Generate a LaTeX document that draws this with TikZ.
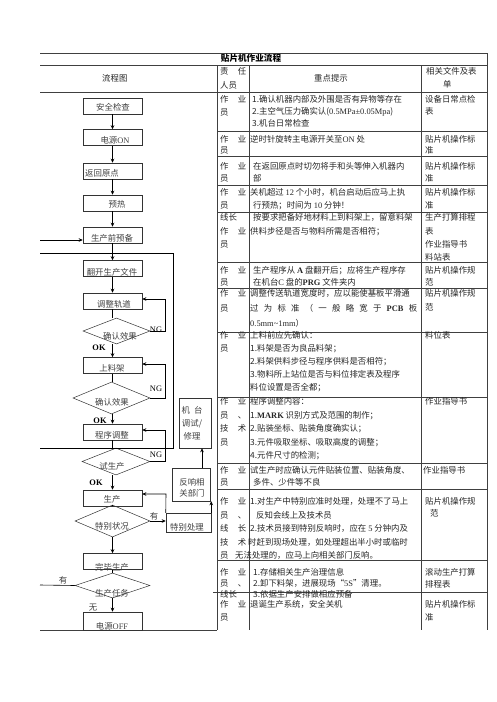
\documentclass[tikz,border=0pt]{standalone}
\usepackage{fontspec}
\setmainfont{Liberation Serif}
\newfontfamily\cjk{Noto Sans CJK SC}
\usetikzlibrary{arrows.meta,shapes.geometric}
\newcommand\latn[1]{{\rmfamily #1}}
\newcommand\wbox[1]{\makebox[26pt]{#1}}
\newcommand\rowc[5]{%
  \foreach \t [count=\i from 0] in {#5} {\node[txt] (#1-\i) at ({#2},{#3+\i*#4}) {\t};}}
\begin{document}
\begin{tikzpicture}[x=1pt,y=-1pt,
  txt/.style={anchor=west,inner sep=0pt,font=\cjk\fontsize{8.4}{10}\selectfont,text height=7pt,text depth=1.5pt,text=black!85},
  ftxt/.style={inner sep=0pt,font=\cjk\fontsize{8.4}{10}\selectfont,text height=7pt,text depth=1.5pt,text=black!75},
  flowbox/.style={draw=black!80,line width=0.6pt,minimum width=59pt,minimum height=16pt,inner sep=0pt},
  dia/.style 2 args={diamond,draw=black!80,line width=0.5pt,inner sep=0pt,minimum width=#1pt,minimum height=#2pt},
  sidebox/.style={draw=black!80,line width=0.5pt,inner sep=0pt},
  arr/.style={-{Stealth[length=4pt,width=3.6pt]}},
  conn/.style={draw=black,line width=0.6pt},
  grid/.style={draw=black!75,line width=0.5pt}]
\useasboundingbox (0,0) rectangle (496,702);

% ---------------- table lines ----------------
\coordinate (tl) at (40,53); \coordinate (tr) at (487,53);
\draw[grid] (tl) -- (tr);
\draw[grid,line width=1pt] (40,65) -- (487,65);
\draw[grid] (40,92) -- (487,92);
\foreach \yy in {131,156,185,212,262,288,332,397,463,489,560} \draw[grid] (217,\yy) -- (487,\yy);
\draw[grid,line width=1pt] (213,592) -- (487,592);
\draw[grid] (40,630) -- (217,630);
\draw[grid] (217,65) -- (217,630);
\draw[grid] (249,65) -- (249,630);
\draw[grid] (421,65) -- (421,630);
\draw[grid] (487,53) -- (487,630);

% ---------------- header ----------------
\node[ftxt,font=\cjk\bfseries\fontsize{8.6}{10}\selectfont,text=black] (title) at (251,59) {贴片机作业流程};
\node[txt] (h1) at (102,79) {流程图};
\rowc{h2}{220}{72}{14}{{\wbox{责\hfill 任}},人员}
\node[txt] (h3) at (314,79) {重点提示};
\rowc{h4}{426}{72}{13}{相关文件及表,\hspace{17pt}单}

% ---------------- rows ----------------
\rowc{r1b}{220}{100}{13}{{\wbox{作\hfill 业}},员}
\rowc{r1c}{252}{100}{12}{1.确认机器内部及外围是否有异物等存在,{2.主空气压力确实认(\latn{0.5MPa±0.05Mpa})},3.机台日常检查}
\rowc{r1d}{425}{100}{12}{设备日常点检,表}

\rowc{r2b}{220}{140}{11}{{\wbox{作\hfill 业}},员}
\rowc{r2c}{250}{140}{11}{逆时针旋转主电源开关至\latn{ON} 处}
\rowc{r2d}{425}{140}{11}{贴片机操作标,准}

\rowc{r3b}{220}{167}{11.5}{{\wbox{作\hfill 业}},员}
\rowc{r3c}{253}{167}{11.5}{在返回原点时切勿将手和头等伸入机器内,部}
\rowc{r3d}{425}{167}{11.5}{贴片机操作标,准}

\rowc{r4b}{220}{193}{13}{{\wbox{作\hfill 业}},员}
\rowc{r4c}{250}{193}{13}{关机超过 \latn{12} 个小时，机台启动后应马上执,\hspace{3pt}行预热；时间为 \latn{10} 分钟！}
\rowc{r4d}{425}{193}{13}{贴片机操作标,准}

\rowc{r5b}{220}{218}{13.3}{线长,{\wbox{作\hfill 业}},员}
\rowc{r5c}{250}{218}{13.3}{\hspace{3pt}按要求把备好地材料上到料架上，留意料架,供料步径是否与物料所需是否相符；}
\rowc{r5d}{425}{218}{13.3}{生产打算排程,表,作业指导书,料站表}

\rowc{r6b}{220}{271}{12}{{\wbox{作\hfill 业}},员}
\rowc{r6c}{250}{271}{12}{\hspace{3pt}生产程序从 \latn{\textbf{A}} 盘翻开后；应将生产程序存,\hspace{3pt}在机台\latn{C} 盘的\latn{\textbf{PRG}} 文件夹内}
\rowc{r6d}{425}{271}{12}{贴片机操作规,范}

\rowc{r7b}{220}{294}{15}{{\wbox{作\hfill 业}},员}
\rowc{r7c}{250}{294}{15}{调整传送轨道宽度时，应以能使基板平滑通,{\makebox[167pt]{过\hfill 为\hfill 标\hfill 准\hfill （\hfill 一\hfill 般\hfill 略\hfill 宽\hfill 于\hfill \latn{\textbf{PCB}}\hfill 板}},\latn{0.5mm\textasciitilde1mm}）}
\rowc{r7d}{425}{294}{14}{贴片机操作规,范}

\rowc{r8b}{220}{336}{13}{{\wbox{作\hfill 业}},员}
\rowc{r8c}{250}{336}{13}{上料前应先确认：,1.料架是否为良品料架；,2.料架供料步径与程序供料是否相符；,3.物料所上站位是否与料位排定表及程序,料位设置是否全都；}
\rowc{r8d}{425}{336}{13}{料位表}

\rowc{r9b}{220}{402}{13.5}{{\wbox{作\hfill 业}},{\wbox{员\hfill 、}},{\wbox{技\hfill 术}},员}
\rowc{r9c}{250}{402}{13.5}{程序调整内容：,1.\latn{\textbf{MARK}} 识别方式及范围的制作；,2.贴装坐标、贴装角度确实认；,3.元件吸取坐标、吸取高度的调整；,4.元件尺寸的检测；}
\rowc{r9d}{425}{402}{13}{作业指导书}

\rowc{r10b}{220}{471}{12}{{\wbox{作\hfill 业}},员}
\rowc{r10c}{250}{471}{12}{试生产时应确认元件贴装位置、贴装角度、,\hspace{3pt}多件、少件等不良}
\rowc{r10d}{423}{471}{12}{作业指导书}

\rowc{r11b}{220}{502}{13.5}{{\wbox{作\hfill 业}},{\wbox{员\hfill 、}},{\wbox{线\hfill 长}},{\wbox{技\hfill 术}},员}
\rowc{r11c}{250}{502}{13.5}{1.对生产中特别应准时处理，处理不了马上,\hspace{6pt}反知会线上及技术员,2.技术员接到特别反响时，应在 \latn{5} 分钟内及}
\node[txt] (r11c4) at (248,542.5) {时赶到现场处理，如处理超出半小时或临时};
\node[txt] (r11c5) at (235,556) {无法处理的，应马上向相关部门反响。};
\rowc{r11d}{425}{502}{12}{贴片机操作规,\hspace{5pt}范}

\rowc{r12b}{220}{573}{11}{{\wbox{作\hfill 业}},{\wbox{员\hfill 、}},线长}
\rowc{r12c}{253}{573}{11}{1.存储相关生产治理信息,2.卸下料架，进展现场“\latn{5S}”清理。,3.依据生产安排做相应预备}
\rowc{r12d}{425}{573}{12}{滚动生产打算,排程表}

\rowc{r13b}{220}{605}{13}{{\wbox{作\hfill 业}},员}
\rowc{r13c}{250}{605}{13}{退诞生产系统，安全关机}
\rowc{r13d}{425}{605}{13}{贴片机操作标,准}

% ---------------- flowchart ----------------
\node[flowbox] (b1) at (112.5,106) {};
\node[flowbox] (b2) at (112.5,137.5) {};
\node[flowbox] (b3) at (112.5,171) {};
\node[flowbox] (b4) at (112.5,203) {};
\node[flowbox] (b5) at (112.5,235) {};
\node[flowbox] (b6) at (112.5,268.5) {};
\node[flowbox] (b7) at (112.5,301) {};
\node[dia={67}{26}] (d1) at (116.5,331) {};
\node[flowbox] (b8) at (112.5,365.5) {};
\node[dia={77}{32}] (d2) at (111.5,398) {};
\node[flowbox] (b9) at (112.5,432) {};
\node[dia={68}{27}] (d3) at (116,461.5) {};
\node[flowbox] (b10) at (112.5,498) {};
\node[dia={75}{32}] (d4) at (112.5,521) {};
\node[flowbox] (b11) at (112.5,561.5) {};
\node[dia={75}{25}] (d5) at (112.5,585.5) {};
\node[flowbox,minimum height=18pt] (b12) at (112.5,621) {};

\node[sidebox,minimum width=32pt,minimum height=50pt] (jt) at (195,423) {};
\node[sidebox,minimum width=38pt,minimum height=33pt] (fx) at (191,484.5) {};
\node[sidebox,minimum width=45pt,minimum height=19pt] (tb) at (188.5,522.5) {};

% flow texts
\node[ftxt] (t1) at (113,108) {安全检查};
\node[ftxt] (t2) at (115,141) {电源\latn{ON}};
\node[ftxt,anchor=west] (t3) at (85,174) {返回原点};
\node[ftxt] (t4) at (117,205) {预热};
\node[ftxt] (t5) at (112,239) {生产前预备};
\node[ftxt] (t6) at (112,273) {翻开生产文件};
\node[ftxt] (t7) at (114,305) {调整轨道};
\node[ftxt] (td1) at (120,337) {确认效果};
\node[ftxt] (t8) at (112,369) {上料架};
\node[ftxt] (td2) at (112,403) {确认效果};
\node[ftxt] (t9) at (112,436) {程序调整};
\node[ftxt] (td3) at (112,467) {试生产};
\node[ftxt] (t10) at (112,500) {生产};
\node[ftxt] (td4) at (112,527) {特别状况};
\node[ftxt] (t11) at (112,568) {完毕生产};
\node[ftxt] (td5) at (112,594) {生产任务};
\node[ftxt] (t12) at (112,627) {电源\latn{OFF}};
\node[ftxt] (tj1) at (192,411) {机\hspace{4pt}台};
\node[ftxt] (tj2) at (192,424) {调试/};
\node[ftxt] (tj3) at (192,437) {修理};
\node[ftxt] (tf1) at (192,483) {反响相};
\node[ftxt] (tf2) at (192,494) {关部门};
\node[ftxt] (tt) at (187,528) {特别处理};

% labels
\node[ftxt,text=black] (ng1) at (156,330) {\latn{NG}};
\node[ftxt,text=black] (ng2) at (156,389) {\latn{NG}};
\node[ftxt,text=black] (ng3) at (156,455) {\latn{NG}};
\node[ftxt,text=black] (ok1) at (99,348) {\latn{\textbf{OK}}};
\node[ftxt,text=black] (ok2) at (100,421) {\latn{\textbf{OK}}};
\node[ftxt,text=black] (ok3) at (96,483) {\latn{\textbf{OK}}};
\node[ftxt] (y1l) at (154,517) {有};
\node[ftxt] (y2l) at (63,581) {有};
\node[ftxt] (wl) at (93,608) {无};

% main arrows
\draw[conn,arr] (b1) -- (b2);
\draw[conn,arr] (b2) -- (b3);
\draw[conn,arr] (b3) -- (b4);
\draw[conn,arr] (b4) -- (b5);
\draw[conn,arr] (b5) -- (b6);
\draw[conn,arr] (b6) -- (b7);
\draw[conn] (b7.south) -- (b7.south |- d1.north);
\draw[conn,arr] (b8.north |- d1.south) -- (b8.north);
\draw[conn] (b8.south) -- (b8.south |- d2.north);
\draw[conn,arr] (b9.north |- d2.south) -- (b9.north);
\draw[conn] (b9.south) -- (b9.south |- d3.north);
\draw[conn,arr] (b10.north |- d3.south) -- (b10.north);
\draw[conn] (b10.south) -- (d4.north);
\draw[conn,arr] (d4.south) -- (b11.north);
\draw[conn] (b11.south) -- (d5.north);
\draw[conn,arr] (d5.south) -- (b12.north);

% NG loops
\coordinate (n1) at (165,299);
\draw[conn,arr] (d1.east) -| (n1) -- (b7.east |- n1);
\coordinate (n2) at (165,364);
\draw[conn,arr] (d2.east) -| (n2) -- (b8.east |- n2);
\coordinate (n3) at (165,430);
\draw[conn,arr] (d3.east) -| (n3) -- (b9.east |- n3);

% special handling
\draw[conn,arr] (d4.east) -- (tb.west |- d4.east);
\coordinate (sp) at (166,494);
\draw[conn,arr] (tb.north west) -- (sp) -- (b10.east |- sp);
\draw[conn,arr] (tb.north east) -- (tb.north east |- fx.south);
\draw[conn,arr] ([xshift=11pt]fx.north) -- ([xshift=11pt]fx.north |- jt.south);

% big loop
\coordinate (L1) at (40,253); \coordinate (L2) at (173,253);
\coordinate (L3) at (173,448); \coordinate (L4) at (40,448);
\draw[conn,line width=0.5pt] (L1) -- (L2) -- (L3) -- (L4);

% repeat loop
\coordinate (R1) at (40,585); \coordinate (R2) at (40,240);
\draw[conn] (d5.west) -- (R1);
\draw[conn,arr] (R2) -- (b5.west |- R2);
\end{tikzpicture}
\end{document}
